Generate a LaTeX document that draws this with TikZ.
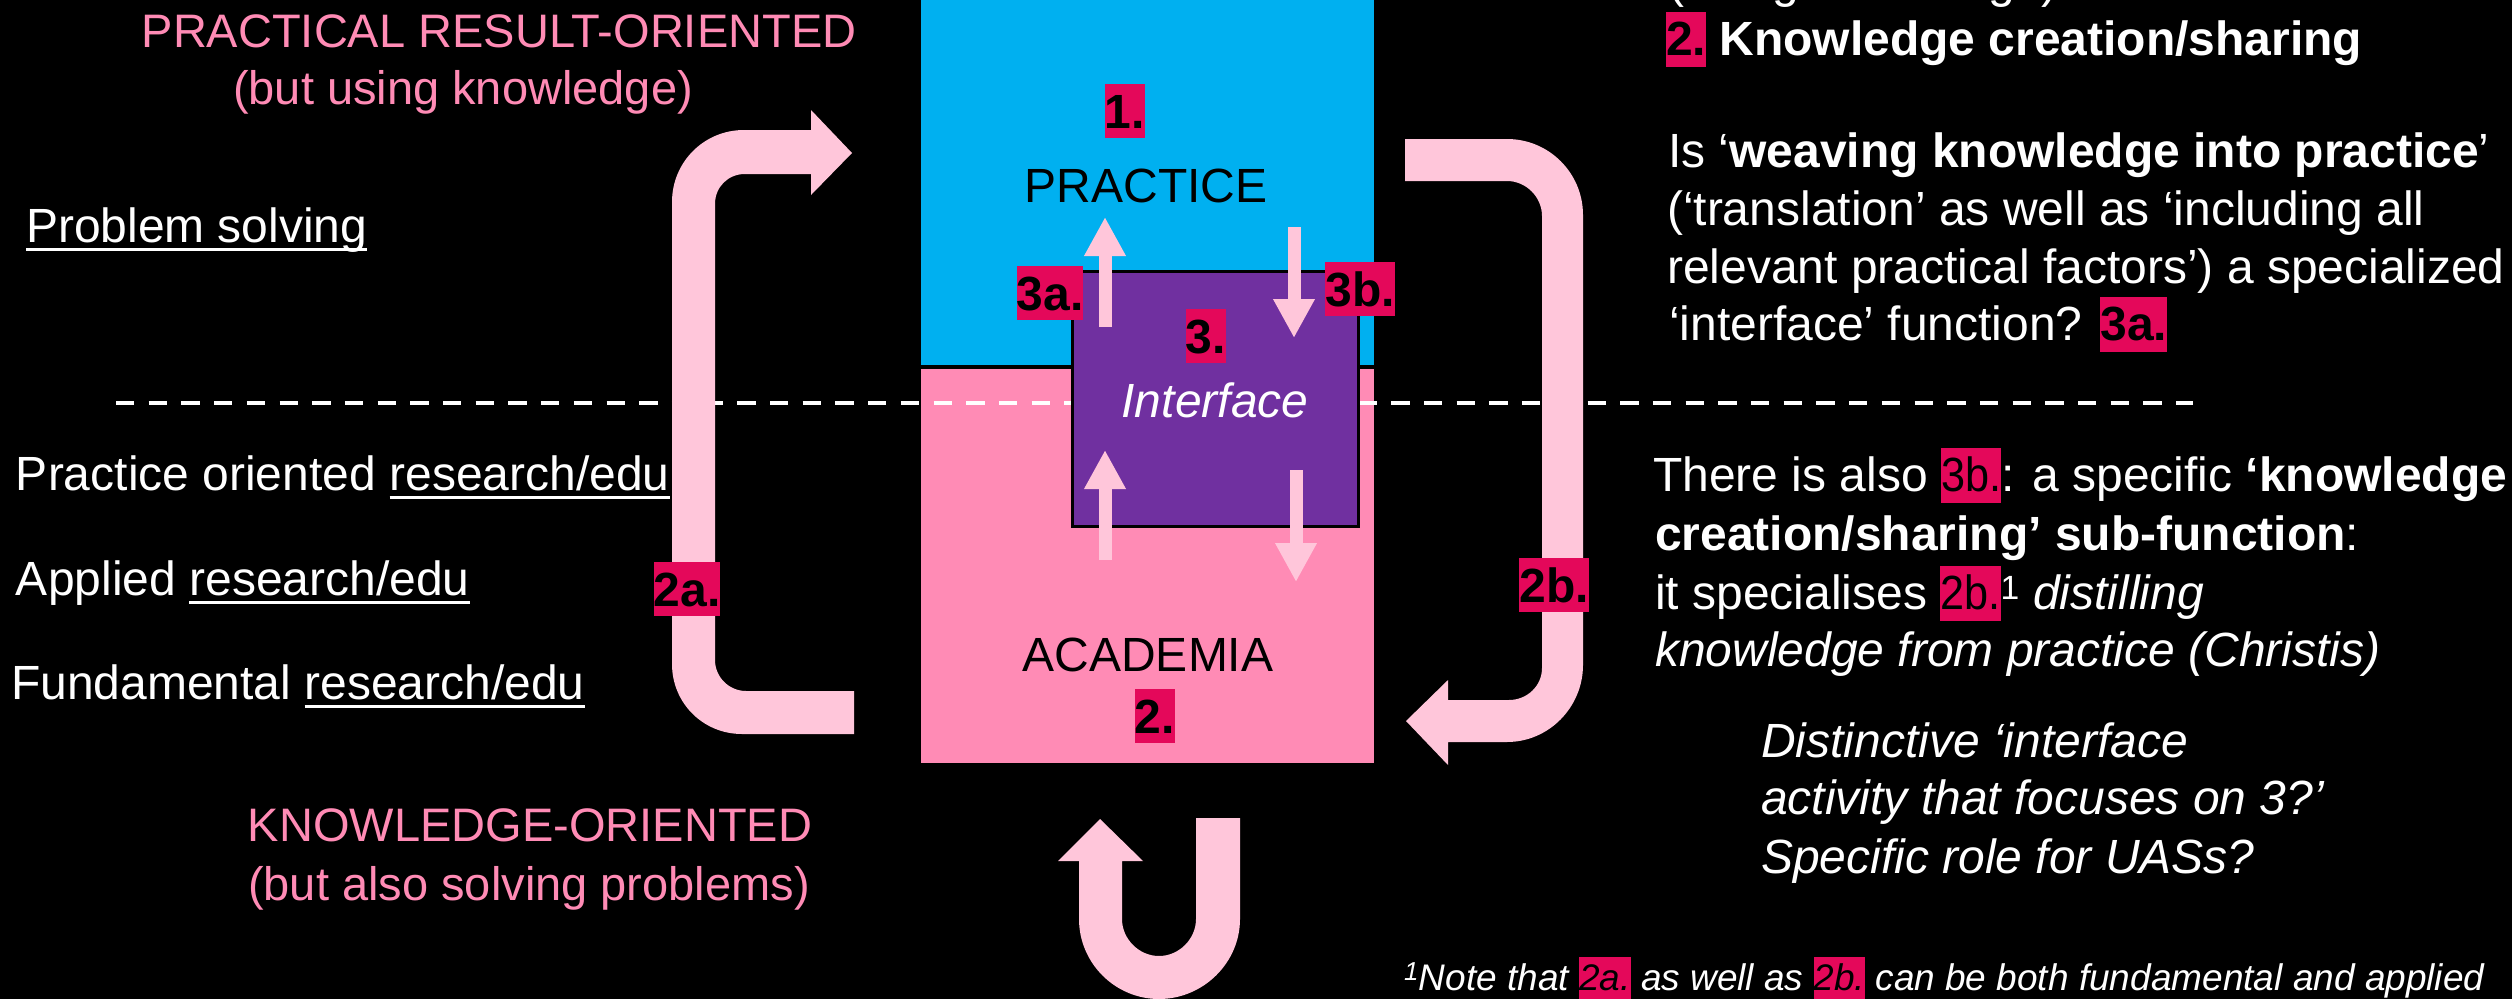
\documentclass[tikz,border=0pt]{standalone}
\usepackage{fontspec}
\usepackage{graphicx}
\setmainfont{Liberation Sans}
\usetikzlibrary{arrows.meta}
\definecolor{pblue}{RGB}{0,176,240}
\definecolor{ppink}{RGB}{255,139,181}
\definecolor{lpink}{RGB}{255,198,218}
\definecolor{ppurple}{RGB}{112,48,160}
\definecolor{mag}{RGB}{228,8,90}
\newcommand\fs[1]{\fontsize{#1}{#1}\selectfont}
\newcommand\hl[1]{{\setlength{\fboxsep}{0pt}\colorbox{mag}{\rule[-0.25em]{0pt}{1.15em}\textcolor{black}{#1}}}}
\newcommand\hls[1]{{\setlength{\fboxsep}{0pt}\colorbox{mag}{\rule[-0.25em]{0pt}{1.15em}\textcolor{black}{\scalebox{0.9}[1]{#1}}}}}
\newcommand\ul[1]{\setbox0\hbox{#1}\rlap{\rule[-9pt]{\wd0}{3pt}}\box0}
\begin{document}
\begin{tikzpicture}[x=1pt,y=-1pt,
  txt/.style={inner sep=0pt, outer sep=0pt, anchor=base west, text=white, font=\fs{48}},
  ctxt/.style={txt, anchor=base},
  ttl/.style={ctxt, text=ppink, font=\fs{47}},
  lab/.style={fill=mag, text=black, font=\fs{48}\bfseries, inner xsep=0pt, inner ysep=0pt, text height=34pt, text depth=0pt, minimum height=54pt},
  smallarrow/.style={lpink, line width=13pt, -{Triangle[width=39pt,length=39pt]}},
  bigarrow/.style={fill=lpink},
]
\useasboundingbox (0,0) rectangle (2512,999);
\fill[black] (0,0) rectangle (2512,999);
\clip (0,0) rectangle (2512,999);

% boxes
\fill[pblue] (921,0) rectangle (1374,365);
\fill[ppink] (921,369) rectangle (1374,763);
% dashed divider
\draw[white, line width=4.5pt, dash pattern=on 18.3pt off 14.4pt] (116,403) -- (2193,403);
% interface box
\filldraw[fill=ppurple, draw=black, line width=3pt] (1072,271) rectangle (1358,526);

% small arrows
\draw[smallarrow] (1105,327) -- (1105,217);
\draw[smallarrow] (1294,227) -- (1294,338);
\draw[smallarrow] (1105,560) -- (1105,450);
\draw[smallarrow] (1296,470) -- (1296,582);

% big arrow 2a
\fill[bigarrow] (854,734) -- (742,734) .. controls (703,734) and (672,703) .. (672,664)
  -- (672,202) .. controls (672,162) and (704,130) .. (744,130)
  -- (811,130) -- (811,110) -- (852,153) -- (811,195) -- (811,174)
  -- (745,174) .. controls (728,174) and (715,187) .. (715,204)
  -- (715,660) .. controls (715,677) and (729,691) .. (746,691)
  -- (854,691) -- cycle;
% big arrow 2b
\fill[bigarrow] (1405,139) -- (1507,139) .. controls (1549,139) and (1583,173) .. (1583,215)
  -- (1583,665) .. controls (1583,707) and (1549,742) .. (1507,742)
  -- (1448,742) -- (1448,765) -- (1406,721) -- (1448,680) -- (1448,700)
  -- (1509,700) .. controls (1527,700) and (1542,686) .. (1542,668)
  -- (1542,216) .. controls (1542,197) and (1526,181) .. (1507,181)
  -- (1405,181) -- cycle;
% U-turn arrow
\fill[bigarrow] (1196,818) -- (1240,818) -- (1240,919)
  .. controls (1240,963) and (1203,999) .. (1159,999)
  .. controls (1115,999) and (1079,963) .. (1079,919)
  -- (1079,861) -- (1058,861) -- (1100,819) -- (1143,861) -- (1122,861) -- (1122,919)
  .. controls (1122,939) and (1139,956) .. (1159,956)
  .. controls (1179,956) and (1196,939) .. (1196,919) -- cycle;

% box texts
\node[ctxt, text=black] (prac) at (1146,202) {PRACTICE};
\node[ctxt, text=black] (acad) at (1148,671) {ACADEMIA};
\node[ctxt, font=\fs{48}\itshape] (intf) at (1215,417) {Interface};

% labels
\node[lab] (l1) at (1125,111) {1.};
\node[lab] (l3a) at (1050,293) {3a.};
\node[lab] (l3b) at (1360,289) {3b.};
\node[lab] (l3) at (1206,336) {3.};
\node[lab] (l2) at (1155,716) {2.};
\node[lab] (l2a) at (687,589) {2a.};
\node[lab] (l2b) at (1554,585) {2b.};

% left texts
\node[ttl] (t1) at (499,47) {PRACTICAL RESULT-ORIENTED};
\node[ttl] (t2) at (463,104) {(but using knowledge)};
\node[txt] (ps) at (26,242) {\ul{Problem solving}};
\node[txt] (pr) at (16,490) {Practice oriented \ul{research/edu}};
\node[txt] (ap) at (16,595) {Applied \ul{research/edu}};
\node[txt] (fu) at (11,699) {Fundamental \ul{research/edu}};
\node[ttl] (k1) at (530,841) {KNOWLEDGE-ORIENTED};
\node[ttl] (k2) at (529,900) {(but also solving problems)};

% right texts
\node[txt] (r0) at (1668,-3) {(using knowledge)};
\node[txt] (r1) at (1666,55) {\hl{\textbf{2.}} \textbf{Knowledge creation/sharing}};
\node[txt] (r2) at (1668,167) {Is ‘\textbf{weaving knowledge into practice}’};
\node[txt] (r3) at (1667,225) {(‘translation’ as well as ‘including all};
\node[txt] (r4) at (1667,283) {relevant practical factors’) a specialized};
\node[txt] (r5) at (1669,340) {‘interface’ function? \hl{\textbf{3a.}}};
\node[txt] (r6) at (1653,491) {There is also \hls{3b.}: a specific \textbf{‘knowledge}};
\node[txt] (r7) at (1655,550) {\textbf{creation/sharing’ sub-function}:};
\node[txt] (r8) at (1655,609) {it specialises \hls{2b.}\textsuperscript{1} \textit{distilling}};
\node[txt] (r9) at (1655,666) {\textit{knowledge from practice (Christis)}};
\node[txt, font=\fs{48}\itshape] (q1) at (1761,757) {Distinctive ‘interface};
\node[txt, font=\fs{48}\itshape] (q2) at (1761,814) {activity that focuses on 3?’};
\node[txt, font=\fs{48}\itshape] (q3) at (1761,873) {Specific role for UASs?};
\node[txt, font=\fs{37}\itshape] (fn) at (1404,990) {\textsuperscript{1}Note that \hl{2a.} as well as \hl{2b.} can be both fundamental and applied};
\end{tikzpicture}
\end{document}
